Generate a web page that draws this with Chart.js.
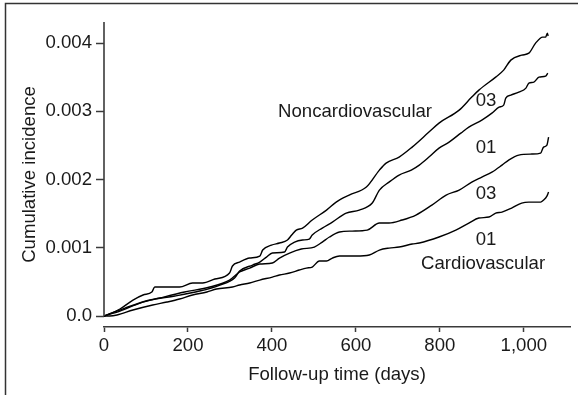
<!DOCTYPE html>
<html>
<head>
<meta charset="utf-8">
<script src="https://cdn.jsdelivr.net/npm/chart.js@4.4.1/dist/chart.umd.min.js"></script>
<style>
  html, body { margin: 0; padding: 0; background: #fff; }
  #wrap { position: relative; width: 578px; height: 395px; }
</style>
</head>
<body>
<div id="wrap"><canvas id="incidence" width="578" height="395"></canvas></div>
<script>
// Follow-up (days) and cumulative incidence for each group
const ncv03Days = [0, 38, 69, 93, 114, 121, 180, 211, 235, 264, 299, 306, 323, 347, 371, 378, 399, 418, 437, 447, 458, 473, 496, 530, 553, 584, 625, 656, 672, 703, 734, 774, 798, 846, 876, 893, 933, 952, 969, 995, 1012, 1028, 1045, 1052, 1056, 1058];
const ncv03Values = [0, 0.000103, 0.000234, 0.000308, 0.000352, 0.000425, 0.000425, 0.000484, 0.000484, 0.000542, 0.00063, 0.000733, 0.000791, 0.00085, 0.000879, 0.000967, 0.00104, 0.00107, 0.001114, 0.001187, 0.00126, 0.001289, 0.001407, 0.001553, 0.00167, 0.001773, 0.00189, 0.002139, 0.002242, 0.00233, 0.002476, 0.002696, 0.002828, 0.003018, 0.003209, 0.003311, 0.003502, 0.003604, 0.003751, 0.003824, 0.003853, 0.004, 0.004088, 0.004088, 0.004147, 0.004105];

const ncv01Days = [0, 50, 109, 169, 228, 276, 311, 323, 354, 371, 387, 401, 430, 437, 454, 473, 489, 496, 520, 544, 577, 608, 639, 656, 679, 703, 732, 751, 774, 798, 822, 850, 869, 900, 924, 941, 952, 957, 969, 988, 1005, 1012, 1024, 1036, 1052, 1057];
const ncv01Values = [0, 0.000117, 0.000234, 0.000293, 0.000366, 0.000454, 0.000557, 0.000659, 0.000747, 0.000791, 0.000864, 0.000923, 0.000938, 0.001011, 0.001084, 0.001114, 0.001128, 0.001187, 0.001289, 0.001377, 0.001509, 0.001553, 0.001656, 0.001846, 0.001963, 0.002066, 0.002139, 0.002212, 0.00233, 0.002462, 0.002549, 0.002681, 0.002769, 0.002872, 0.002974, 0.003062, 0.003092, 0.003194, 0.003238, 0.003282, 0.003341, 0.003414, 0.003429, 0.003502, 0.003516, 0.00356];

const cv03Days = [0, 38, 86, 133, 192, 252, 299, 323, 347, 371, 401, 418, 442, 470, 501, 520, 537, 561, 591, 627, 656, 679, 710, 743, 781, 815, 846, 876, 900, 924, 948, 964, 988, 1019, 1040, 1047, 1055, 1059];
const cv03Values = [0, 0.000073, 0.00019, 0.000264, 0.000352, 0.000425, 0.000527, 0.000645, 0.000703, 0.000762, 0.000777, 0.00085, 0.000923, 0.000982, 0.001011, 0.001084, 0.001158, 0.001231, 0.001245, 0.00126, 0.001363, 0.001363, 0.001407, 0.00148, 0.001626, 0.001773, 0.001846, 0.001963, 0.002037, 0.00211, 0.002212, 0.002286, 0.002359, 0.002374, 0.002388, 0.002476, 0.002505, 0.002623];

const cv01Days = [0, 14, 31, 69, 116, 150, 180, 211, 245, 268, 306, 323, 347, 371, 401, 418, 442, 465, 482, 496, 513, 530, 544, 561, 601, 632, 656, 679, 703, 734, 751, 798, 838, 869, 893, 917, 933, 948, 971, 995, 1012, 1040, 1047, 1055, 1059];
const cv01Values = [0, 0, 0.000015, 0.000088, 0.000161, 0.000205, 0.000249, 0.000308, 0.000352, 0.000396, 0.000425, 0.000454, 0.000484, 0.000527, 0.000571, 0.000601, 0.00063, 0.000674, 0.000703, 0.000718, 0.000806, 0.000806, 0.00085, 0.000879, 0.000879, 0.000894, 0.000967, 0.000996, 0.001011, 0.001055, 0.00107, 0.001158, 0.00126, 0.001363, 0.001436, 0.001451, 0.001509, 0.001524, 0.001582, 0.001656, 0.00167, 0.00167, 0.0017, 0.001758, 0.001817];

const xTickValues = [0, 200, 400, 600, 800, 1000];
const yTickValues = [0, 0.001, 0.002, 0.003, 0.004];

// text placed on the plot, anchored in data units
const annotations = [
  { text: 'Noncardiovascular', day: 598, value: 0.00299 },
  { text: '03', day: 910, value: 0.00315 },
  { text: '01', day: 910, value: 0.00246 },
  { text: '03', day: 910, value: 0.00179 },
  { text: '01', day: 910, value: 0.00111 },
  { text: 'Cardiovascular', day: 903, value: 0.00076 }
];

const FONT = "'Liberation Sans', Arial, Helvetica, sans-serif";
const FONT_SIZE = 18.6;
const INK = '#1a1a1a';
const AXIS = '#3a3a3a';

function toPoints(days, values) {
  return days.map((d, i) => ({ x: d, y: values[i] }));
}

function curve(days, values) {
  return {
    data: toPoints(days, values),
    borderColor: '#000',
    borderWidth: 1.4,
    pointRadius: 0,
    fill: false,
    tension: 0.35,
    cubicInterpolationMode: 'monotone'
  };
}

// outer frame, the y axis line that stops at zero, and the curve labels
const decorations = {
  id: 'decorations',
  beforeDraw(chart) {
    const ctx = chart.ctx;
    ctx.save();
    ctx.strokeStyle = '#333';
    ctx.lineWidth = 1.5;
    ctx.beginPath();
    ctx.moveTo(5.5, 395);
    ctx.lineTo(5.5, 3.5);
    ctx.lineTo(578, 3.5);
    ctx.stroke();
    ctx.restore();
  },
  afterDatasetsDraw(chart) {
    const ctx = chart.ctx;
    const xs = chart.scales.x, ys = chart.scales.y;
    ctx.save();
    ctx.strokeStyle = AXIS;
    ctx.lineWidth = 1.6;
    ctx.beginPath();
    ctx.moveTo(xs.left, chart.chartArea.top);
    ctx.lineTo(xs.left, ys.getPixelForValue(0));
    ctx.stroke();

    ctx.fillStyle = INK;
    ctx.font = FONT_SIZE + 'px ' + FONT;
    ctx.textAlign = 'center';
    ctx.textBaseline = 'middle';
    annotations.forEach(a => {
      ctx.fillText(a.text, xs.getPixelForValue(a.day), ys.getPixelForValue(a.value));
    });
    ctx.restore();
  }
};

const config = {
  type: 'line',
  data: {
    datasets: [
      curve(ncv03Days, ncv03Values),
      curve(ncv01Days, ncv01Values),
      curve(cv03Days, cv03Values),
      curve(cv01Days, cv01Values)
    ]
  },
  options: {
    responsive: false,
    animation: false,
    events: [],
    layout: { padding: { left: 0, top: 22, right: 8, bottom: 0 } },
    plugins: { legend: { display: false }, tooltip: { enabled: false } },
    scales: {
      x: {
        type: 'linear',
        min: 0,
        max: 1110,
        afterBuildTicks: scale => { scale.ticks = xTickValues.map(v => ({ value: v })); },
        afterFit: scale => { scale.height = 68; },
        grid: { drawOnChartArea: false, drawTicks: true, tickLength: 5, tickWidth: 1.5, tickColor: AXIS },
        border: { display: true, color: AXIS, width: 1.6 },
        ticks: {
          padding: 3,
          color: INK,
          font: { family: FONT, size: FONT_SIZE },
          callback: v => v.toLocaleString('en-US')
        },
        title: {
          display: true,
          text: 'Follow-up time (days)',
          color: INK,
          font: { family: FONT, size: FONT_SIZE },
          padding: { top: 0, bottom: 9 }
        }
      },
      y: {
        type: 'linear',
        min: -0.000161,
        max: 0.00431,
        afterBuildTicks: scale => { scale.ticks = yTickValues.map(v => ({ value: v })); },
        afterFit: scale => { scale.width = 104; },
        grid: { drawOnChartArea: false, drawTicks: true, tickLength: 8, tickWidth: 1.5, tickColor: AXIS },
        border: { display: false },
        ticks: {
          padding: 4,
          color: INK,
          font: { family: FONT, size: FONT_SIZE },
          callback: v => (v === 0 ? '0.0' : v.toFixed(3))
        },
        title: {
          display: true,
          text: 'Cumulative incidence',
          color: INK,
          font: { family: FONT, size: FONT_SIZE },
          padding: { top: 19, bottom: 0 }
        }
      }
    }
  },
  plugins: [decorations]
};

new Chart(document.getElementById('incidence'), config);
</script>
</body>
</html>
